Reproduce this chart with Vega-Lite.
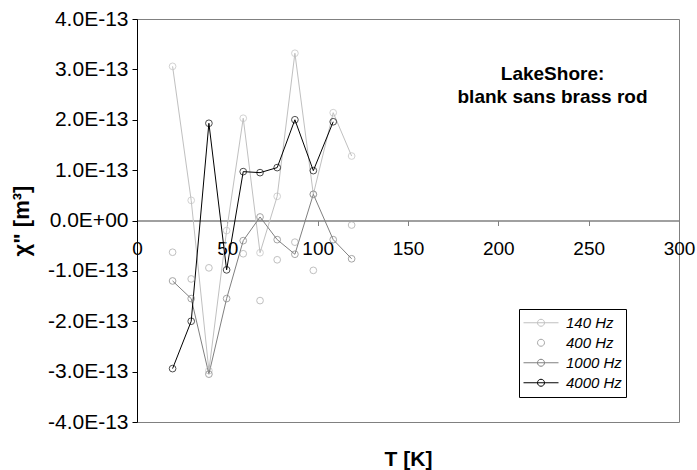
{
  "$schema": "https://vega.github.io/schema/vega-lite/v6.json",
  "width": 542,
  "height": 403,
  "autosize": {"type": "none"},
  "padding": {"left": 137, "top": 19, "right": 18, "bottom": 48},
  "config": {"font": "Liberation Sans", "view": {"stroke": "#808080", "strokeWidth": 1}},
  "data": {
    "values": [
      {"T": 19.7, "chi": 3.06e-13, "series": "140 Hz"},
      {"T": 30.0, "chi": 0.40e-13, "series": "140 Hz"},
      {"T": 39.8, "chi": -2.98e-13, "series": "140 Hz"},
      {"T": 49.6, "chi": -0.20e-13, "series": "140 Hz"},
      {"T": 58.8, "chi": 2.03e-13, "series": "140 Hz"},
      {"T": 68.1, "chi": -0.64e-13, "series": "140 Hz"},
      {"T": 77.6, "chi": 0.48e-13, "series": "140 Hz"},
      {"T": 87.4, "chi": 3.32e-13, "series": "140 Hz"},
      {"T": 97.6, "chi": 0.52e-13, "series": "140 Hz"},
      {"T": 108.6, "chi": 2.14e-13, "series": "140 Hz"},
      {"T": 118.8, "chi": 1.28e-13, "series": "140 Hz"},
      {"T": 19.7, "chi": -0.63e-13, "series": "400 Hz"},
      {"T": 30.0, "chi": -1.16e-13, "series": "400 Hz"},
      {"T": 39.8, "chi": -0.94e-13, "series": "400 Hz"},
      {"T": 58.8, "chi": -0.66e-13, "series": "400 Hz"},
      {"T": 68.1, "chi": -1.59e-13, "series": "400 Hz"},
      {"T": 77.6, "chi": -0.78e-13, "series": "400 Hz"},
      {"T": 87.4, "chi": -0.43e-13, "series": "400 Hz"},
      {"T": 97.6, "chi": -0.99e-13, "series": "400 Hz"},
      {"T": 118.8, "chi": -0.09e-13, "series": "400 Hz"},
      {"T": 19.7, "chi": -1.20e-13, "series": "1000 Hz"},
      {"T": 30.0, "chi": -1.55e-13, "series": "1000 Hz"},
      {"T": 39.8, "chi": -3.05e-13, "series": "1000 Hz"},
      {"T": 49.6, "chi": -1.55e-13, "series": "1000 Hz"},
      {"T": 58.8, "chi": -0.40e-13, "series": "1000 Hz"},
      {"T": 68.1, "chi": 0.07e-13, "series": "1000 Hz"},
      {"T": 77.6, "chi": -0.38e-13, "series": "1000 Hz"},
      {"T": 87.4, "chi": -0.67e-13, "series": "1000 Hz"},
      {"T": 97.6, "chi": 0.52e-13, "series": "1000 Hz"},
      {"T": 108.6, "chi": -0.38e-13, "series": "1000 Hz"},
      {"T": 118.8, "chi": -0.76e-13, "series": "1000 Hz"},
      {"T": 19.7, "chi": -2.94e-13, "series": "4000 Hz"},
      {"T": 30.0, "chi": -2.00e-13, "series": "4000 Hz"},
      {"T": 39.8, "chi": 1.93e-13, "series": "4000 Hz"},
      {"T": 49.6, "chi": -0.98e-13, "series": "4000 Hz"},
      {"T": 58.8, "chi": 0.97e-13, "series": "4000 Hz"},
      {"T": 68.1, "chi": 0.95e-13, "series": "4000 Hz"},
      {"T": 77.6, "chi": 1.05e-13, "series": "4000 Hz"},
      {"T": 87.4, "chi": 2.00e-13, "series": "4000 Hz"},
      {"T": 97.6, "chi": 0.99e-13, "series": "4000 Hz"},
      {"T": 108.6, "chi": 1.96e-13, "series": "4000 Hz"}
    ]
  },
  "encoding": {
    "x": {
      "field": "T", "type": "quantitative",
      "scale": {"domain": [0, 300], "nice": false, "zero": false},
      "axis": {
        "title": "T [K]", "values": [0, 50, 100, 150, 200, 250, 300],
        "offset": -201.5, "domainColor": "#808080", "domainWidth": 1.5,
        "tickColor": "#808080", "tickSize": 5, "tickWidth": 1,
        "labelFontSize": 19, "labelColor": "black", "labelPadding": 14,
        "labelOverlap": false, "labelFlush": false, "labelBound": false, "grid": false,
        "titleFontSize": 21, "titleFontWeight": "bold", "titleColor": "black",
        "titleY": 245, "titleBaseline": "alphabetic"
      }
    },
    "y": {
      "field": "chi", "type": "quantitative",
      "scale": {"domain": [-4e-13, 4e-13], "nice": false, "zero": false},
      "axis": {
        "title": "χ\" [m³]",
        "values": [-4e-13, -3e-13, -2e-13, -1e-13, 0, 1e-13, 2e-13, 3e-13, 4e-13],
        "labelExpr": "datum.value == 0 ? '0.0E+00' : (datum.value < 0 ? '-' : '') + format(abs(datum.value) * 1e13, '.1f') + 'E-13'",
        "domainColor": "black", "tickColor": "black", "tickSize": 5, "grid": false,
        "labelFontSize": 21, "labelPadding": 4, "labelColor": "black",
        "titleFontSize": 22, "titleFontWeight": "bold", "titleColor": "black",
        "titleX": -116, "titleY": 201.5, "titleAngle": -90, "titleBaseline": "middle", "titleAlign": "center"
      }
    },
    "color": {
      "field": "series", "type": "nominal",
      "scale": {"domain": ["140 Hz", "400 Hz", "1000 Hz", "4000 Hz"], "range": ["#c0c0c0", "#a6a6a6", "#808080", "#000000"]},
      "legend": {
        "title": null, "orient": "none", "legendX": 382, "legendY": 290,
        "strokeColor": "black", "fillColor": "white", "padding": 4,
        "symbolSize": 1225, "symbolStrokeWidth": 1, "symbolFillColor": "transparent", "symbolOpacity": 1,
        "labelFontSize": 15, "labelFontStyle": "italic", "labelColor": "black", "labelOffset": 7,
        "clipHeight": 19.5, "rowPadding": 0
      }
    }
  },
  "layer": [
    {
      "transform": [{"filter": "datum.series !== '400 Hz'"}],
      "mark": {"type": "line", "strokeWidth": 1}
    },
    {
      "mark": {"type": "point", "shape": "circle", "filled": false, "size": 45, "strokeWidth": 1}
    },
    {
      "mark": {"type": "point", "filled": false, "strokeWidth": 1, "opacity": 0},
      "encoding": {
        "shape": {
          "field": "series", "type": "nominal",
          "scale": {
            "domain": ["140 Hz", "400 Hz", "1000 Hz", "4000 Hz"],
            "range": [
              "M-1,0L1,0M0.2,0A0.2,0.2,0,1,1,-0.2,0A0.2,0.2,0,1,1,0.2,0",
              "M0.2,0A0.2,0.2,0,1,1,-0.2,0A0.2,0.2,0,1,1,0.2,0",
              "M-1,0L1,0M0.2,0A0.2,0.2,0,1,1,-0.2,0A0.2,0.2,0,1,1,0.2,0",
              "M-1,0L1,0M0.2,0A0.2,0.2,0,1,1,-0.2,0A0.2,0.2,0,1,1,0.2,0"
            ]
          },
          "legend": {
            "title": null, "orient": "none", "legendX": 382, "legendY": 290,
            "strokeColor": "black", "fillColor": "white", "padding": 4,
            "symbolSize": 1225, "symbolStrokeWidth": 1, "symbolFillColor": "transparent", "symbolOpacity": 1,
            "labelFontSize": 15, "labelFontStyle": "italic", "labelColor": "black", "labelOffset": 7,
            "clipHeight": 19.5, "rowPadding": 0
          }
        }
      }
    },
    {
      "data": {"values": [
        {"T": 230, "chi": 2.90e-13, "label": "LakeShore:"},
        {"T": 230, "chi": 2.46e-13, "label": "blank sans brass rod"}
      ]},
      "mark": {"type": "text", "fontWeight": "bold", "fontSize": 19, "align": "center", "baseline": "middle", "color": "black"},
      "encoding": {"text": {"field": "label", "type": "nominal"}, "color": {"value": "black"}}
    }
  ]
}
